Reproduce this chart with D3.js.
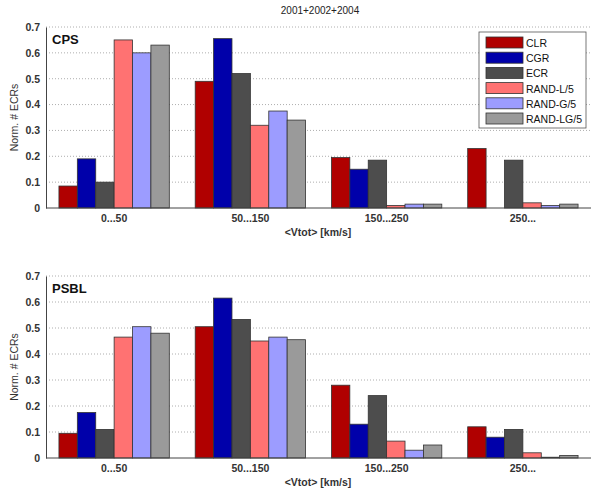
<!DOCTYPE html>
<html><head><meta charset="utf-8">
<script src="https://cdn.jsdelivr.net/npm/d3@7"></script>
<style>body{margin:0;background:#fff;} text{font-family:"Liberation Sans",Arial,sans-serif;}</style>
</head><body>
<svg id="c" width="592" height="492"></svg>
<script>
const categories = ["0...50", "50...150", "150...250", "250..."];
const seriesNames = ["CLR", "CGR", "ECR", "RAND-L/5", "RAND-G/5", "RAND-LG/5"];
const seriesColors = ["#b00000", "#0000aa", "#4d4d4d", "#ff7272", "#9c9cff", "#9a9a9a"];
const cpsCLR   = [0.085, 0.49, 0.195, 0.23];
const cpsCGR   = [0.19, 0.655, 0.15, 0];
const cpsECR   = [0.10, 0.52, 0.185, 0.185];
const cpsRL    = [0.65, 0.32, 0.01, 0.02];
const cpsRG    = [0.60, 0.375, 0.015, 0.01];
const cpsRLG   = [0.63, 0.34, 0.015, 0.015];
const psblCLR  = [0.095, 0.505, 0.28, 0.12];
const psblCGR  = [0.175, 0.615, 0.13, 0.08];
const psblECR  = [0.11, 0.533, 0.24, 0.11];
const psblRL   = [0.465, 0.45, 0.065, 0.02];
const psblRG   = [0.505, 0.465, 0.03, 0.003];
const psblRLG  = [0.48, 0.455, 0.05, 0.01];
const yTicks = [0, 0.1, 0.2, 0.3, 0.4, 0.5, 0.6, 0.7];
const title = "2001+2002+2004";
const xLabel = "<Vtot> [km/s]";
const yLabel = "Norm. # ECRs";

const svg = d3.select("#c");
const left = 46, right = 591;
const fs = 10.5;

svg.append("text").attr("x", 320).attr("y", 14).attr("text-anchor", "middle")
  .attr("font-size", 10).attr("fill", "#222").text(title);

function panel(name, series, top, bottom, showLegend) {
  const g = svg.append("g");
  const x = d3.scaleBand().domain(categories).range([left, right]).paddingInner(0.19).paddingOuter(0.095);
  const xs = d3.scaleBand().domain(seriesNames).range([0, x.bandwidth()]);
  const y = d3.scaleLinear().domain([0, 0.7]).range([bottom, top]);
  g.append("g").selectAll("line").data(yTicks.filter(d => d > 0)).join("line")
    .attr("x1", left).attr("x2", right).attr("y1", d => y(d)).attr("y2", d => y(d))
    .attr("stroke", "#999").attr("stroke-width", 0.8).attr("stroke-dasharray", "1,2");
  categories.forEach((c, ci) => {
    series.forEach((s, si) => {
      const v = s[ci];
      if (v <= 0) return;
      g.append("rect").attr("x", x(c) + xs(seriesNames[si])).attr("width", xs.bandwidth())
        .attr("y", y(v)).attr("height", y(0) - y(v))
        .attr("fill", seriesColors[si]).attr("stroke", "#333").attr("stroke-width", 0.8);
    });
  });
  const ya = g.append("g").attr("transform", `translate(${left},0)`)
    .call(d3.axisLeft(y).tickValues(yTicks).tickSize(0).tickPadding(6).tickFormat(d => d === 0 ? "0" : d3.format(".1f")(d)));
  ya.select(".domain").attr("stroke", "#444").attr("stroke-width", 1);
  ya.selectAll("text").attr("font-size", fs).attr("font-weight", "bold").attr("fill", "#333")
    .style("font-family", "'Liberation Sans',Arial,sans-serif");
  const xa = g.append("g").attr("transform", `translate(0,${bottom})`)
    .call(d3.axisBottom(x).tickSize(0).tickPadding(7));
  xa.select(".domain").attr("stroke", "#444").attr("stroke-width", 1).attr("d", `M${left},0H${right}`);
  xa.selectAll("text").attr("font-size", fs).attr("font-weight", "bold").attr("fill", "#333")
    .style("font-family", "'Liberation Sans',Arial,sans-serif");
  g.append("text").attr("x", 318).attr("y", bottom + 28).attr("text-anchor", "middle")
    .attr("font-size", fs).attr("font-weight", "bold").attr("fill", "#333").text(xLabel);
  g.append("text").attr("transform", `translate(18,${(top + bottom) / 2}) rotate(-90)`)
    .attr("text-anchor", "middle").attr("font-size", fs).attr("fill", "#333").text(yLabel);
  g.append("text").attr("x", 52).attr("y", top + 17).attr("font-size", 13).attr("font-weight", "bold")
    .attr("fill", "#111").text(name);

  if (showLegend) {
    const lx = 479, ly = 32, lw = 107, lh = 96;
    const lg = g.append("g");
    lg.append("rect").attr("x", lx).attr("y", ly).attr("width", lw).attr("height", lh)
      .attr("fill", "#fff").attr("stroke", "#555").attr("stroke-width", 0.8);
    seriesNames.forEach((n, i) => {
      const yy = ly + 5 + i * 15.2;
      lg.append("rect").attr("x", lx + 7).attr("y", yy).attr("width", 37).attr("height", 11)
        .attr("fill", seriesColors[i]).attr("stroke", "#333").attr("stroke-width", 0.8);
      lg.append("text").attr("x", lx + 47).attr("y", yy + 10).attr("font-size", fs).attr("fill", "#111").text(n);
    });
  }
}

panel("CPS", [cpsCLR, cpsCGR, cpsECR, cpsRL, cpsRG, cpsRLG], 27, 208, true);
panel("PSBL", [psblCLR, psblCGR, psblECR, psblRL, psblRG, psblRLG], 276, 458, false);
</script>
</body></html>
